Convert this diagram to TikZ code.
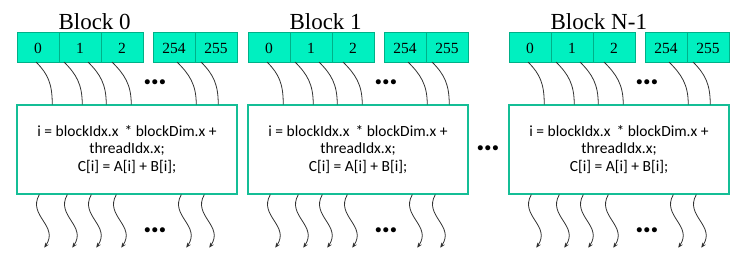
\documentclass[tikz,border=0pt]{standalone}
\usepackage{fontspec}
\setmainfont{Liberation Serif}
\newfontfamily\calibri{Carlito}
\usetikzlibrary{arrows.meta,calc}
\definecolor{cellfill}{RGB}{0,240,192}
\definecolor{celldraw}{RGB}{0,176,136}
\definecolor{boxdraw}{RGB}{20,190,150}
\definecolor{thread}{RGB}{50,50,50}

\begin{document}
\begin{tikzpicture}[x=1pt,y=-1pt,>={Stealth[length=5pt,width=4pt]},line cap=round,
  cell/.style={draw=celldraw,fill=cellfill,line width=1pt,minimum width=42pt,minimum height=30pt,inner sep=0pt,font=\rmfamily\fontsize{15.5}{18}\selectfont},
  kernel/.style={draw=boxdraw,line width=1.5pt,minimum width=220pt,minimum height=89pt,align=center,font=\calibri\fontsize{15.5}{17.5}\selectfont},
  wire/.style={draw=thread,line width=0.8pt},
  dots/.style={font=\calibri\bfseries\fontsize{34}{34}\selectfont,inner sep=0pt}]
\useasboundingbox (0,0) rectangle (739,262);
\foreach \bx/\lbl/\n in {17/0/a,248/1/b,509/N-1/c}{
  \node[anchor=base west,font=\rmfamily\fontsize{23}{23}\selectfont] (t\n) at (\bx+38,30) {Block \lbl};
  \node[cell] (\n0) at (\bx+21,48) {0};
  \node[cell] (\n1) at (\bx+63,48) {1};
  \node[cell] (\n2) at (\bx+105,48) {2};
  \node[cell] (\n3) at (\bx+157,48) {254};
  \node[cell] (\n4) at (\bx+199,48) {255};
  \node[kernel] (k\n) at (\bx+110,149.5) {i = blockIdx.x \,* blockDim.x +\\threadIdx.x;\\C[i] = A[i] + B[i];};
  \node[dots] (u\n) at (\bx+138,82) {…};
  \node[dots] (d\n) at (\bx+138,230) {…};
  \foreach \s/\e in {20/36,48/66,72/90,96/115,161/180,185/202}
    \draw[wire] ($(k\n.north west)+(\s,-42)$) .. controls +(12,12) and +(0,-20) .. ($(k\n.north west)+(\e,0)$);
  \foreach \s in {23,51,75,100,165,188}{
    \coordinate (o\n\s) at ($(k\n.south west)+(\s+5,53)$);
    \draw[wire,->] ($(k\n.south west)+(\s,0)$) .. controls +(-12,21) and +(15,-22) .. (o\n\s);
  }
}
\node[dots] (mid) at (488,148) {…};
\end{tikzpicture}
\end{document}
